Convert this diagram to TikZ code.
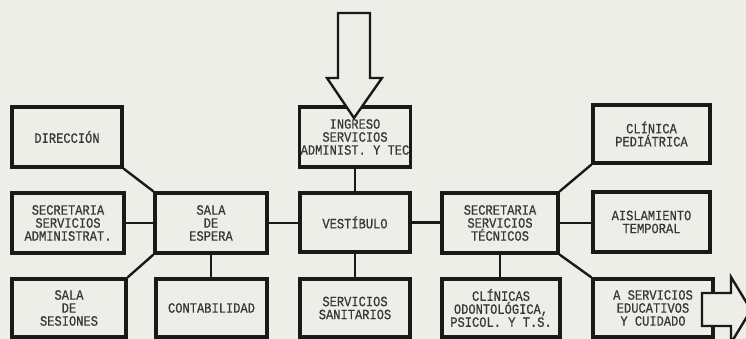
\documentclass[tikz,border=0pt]{standalone}
\usepackage{fontspec}
\newfontfamily\lblff[FakeStretch=0.85,FakeBold=0.6]{Liberation Mono}
\definecolor{bgc}{RGB}{238,238,233}
\definecolor{linec}{RGB}{25,25,25}
\definecolor{txtc}{RGB}{55,55,55}
\newcommand{\lblfont}{\lblff\fontsize{14.2}{13}\selectfont}
\tikzset{
  box/.style={draw=linec, line width=3.2pt, fill=bgc, minimum width=110pt,
    minimum height=60pt, inner sep=1pt, align=center, font=\lblfont, text=txtc},
  conn/.style={draw=linec, line width=2.4pt},
  bigarrow/.style={draw=linec, line width=2.4pt, fill=bgc, line join=miter}
}
\begin{document}
\begin{tikzpicture}[x=1pt,y=-1pt]
\useasboundingbox (0,0) rectangle (746,339);
\fill[bgc] (0,0) rectangle (746,339);
% left group
\node[box, minimum width=110pt] (dir) at (67,137) {DIRECCIÓN};
\node[box, minimum width=112pt] (secA) at (68,223) {SECRETARIA\\SERVICIOS\\ADMINISTRAT.};
\node[box, minimum width=114pt, minimum height=58pt] (ses) at (69,308) {SALA\\DE\\SESIONES};
\node[box, minimum width=112pt] (esp) at (211,223) {SALA\\DE\\ESPERA};
\node[box, minimum width=111pt, minimum height=58pt] (cont) at (211.5,308) {CONTABILIDAD};
% centre group
\node[box] (ing) at (355,137) {INGRESO\\SERVICIOS\\ADMINIST. Y TEC};
\node[box, minimum height=59pt] (vest) at (355,222.5) {VESTÍBULO};
\node[box, minimum height=58pt] (san) at (355,308) {SERVICIOS\\SANITARIOS};
% right group
\node[box, minimum width=116pt] (secT) at (500,223) {SECRETARIA\\SERVICIOS\\TÉCNICOS};
\node[box, minimum width=117pt, minimum height=58pt] (clin) at (651.5,134) {CLÍNICA\\PEDIÁTRICA};
\node[box, minimum width=117pt] (aisl) at (651.5,222) {AISLAMIENTO\\TEMPORAL};
\node[box, minimum width=118pt, minimum height=58pt] (odon) at (501,308) {CLÍNICAS\\ODONTOLÓGICA,\\PSICOL. Y T.S.};
\node[box, minimum width=120pt, minimum height=58pt] (educ) at (653,308) {A SERVICIOS\\EDUCATIVOS\\Y CUIDADO};
% connectors
\draw[conn] (dir.south east) -- (esp.north west);
\draw[conn] (secA.east) -- (secA.east -| esp.west);
\draw[conn] (ses.north east) -- (esp.south west);
\draw[conn] (esp.south) -- (esp.south |- cont.north);
\draw[conn] (esp.east) -- (esp.east -| vest.west);
\draw[conn] (ing.south) -- (vest.north);
\draw[conn] (vest.south) -- (san.north);
\draw[conn] (vest.east) -- (vest.east -| secT.west);
\draw[conn] (secT.north east) -- (clin.south west);
\draw[conn] (secT.east) -- (secT.east -| aisl.west);
\draw[conn] (secT.south east) -- (educ.north west);
\draw[conn] (secT.south) -- (secT.south |- odon.north);
% big arrows
\draw[bigarrow] (338,13) -- (370,13) -- (370,78) -- (382,78) -- (354,118)
  -- (327,78) -- (338,78) -- cycle;
\draw[bigarrow] (702,293) -- (731,293) -- (731,277) -- (751,310) -- (731,343)
  -- (731,326) -- (702,326) -- cycle;
\end{tikzpicture}
\end{document}
